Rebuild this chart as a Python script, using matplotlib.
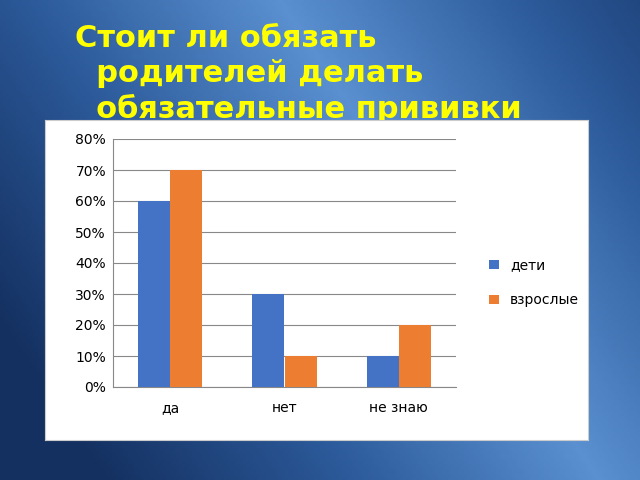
import numpy as np
import matplotlib
matplotlib.use("Agg")
import matplotlib.pyplot as plt
from matplotlib.colors import LinearSegmentedColormap
from matplotlib.ticker import FuncFormatter

categories = ["да", "нет", "не знаю"]
series_names = ["дети", "взрослые"]
deti = [0.60, 0.30, 0.10]
vzroslye = [0.70, 0.10, 0.20]
title = "Стоит ли обязать\n  родителей делать\n  обязательные прививки"

W, H = 640, 480
fig = plt.figure(figsize=(6.4, 4.8), dpi=100)

# background gradient
bg = fig.add_axes([0, 0, 1, 1], zorder=0)
xx, yy = np.meshgrid(np.linspace(0, 1, 200), np.linspace(0, 1, 150))
val = np.clip(1 - np.abs((xx * 0.8 + (1 - yy) * 0.4) - 0.75) * 1.6, 0, 1)
cmap = LinearSegmentedColormap.from_list("g", ["#143060", "#2c5a9a", "#5a90d0"])
bg.imshow(val, cmap=cmap, aspect="auto", extent=[0, W, H, 0])
bg.set_xlim(0, W); bg.set_ylim(H, 0); bg.axis("off")
bg.text(75, 24, title, color="#FFFF00", fontsize=22, fontweight="bold",
        va="top", ha="left", linespacing=1.25)

# white box
box = fig.add_axes([45 / W, 1 - 440 / H, (588 - 45) / W, (440 - 120) / H], zorder=1)
box.set_facecolor("white")
box.set_xticks([]); box.set_yticks([])
for s in box.spines.values():
    s.set_color("#cccccc")

ax = fig.add_axes([113 / W, 1 - 387 / H, (456 - 113) / W, (387 - 139) / H], zorder=2)
x = np.arange(len(categories))
w = 0.28
ax.bar(x - w / 2, deti, w, color="#4472C4", label=series_names[0], zorder=3)
ax.bar(x + w / 2, vzroslye, w, color="#ED7D31", label=series_names[1], zorder=3)
ax.set_xlim(-0.5, 2.5); ax.set_ylim(0, 0.8)
ax.set_yticks(np.arange(0, 0.81, 0.1))
ax.yaxis.set_major_formatter(FuncFormatter(lambda v, p: f"{v*100:.0f}%"))
ax.set_xticks(x); ax.set_xticklabels(categories)
ax.tick_params(labelsize=10, length=0, pad=10)
ax.tick_params(axis="y", pad=5)
ax.grid(axis="y", color="#888888", linewidth=0.8, zorder=0)
ax.set_facecolor("none")
for k in ["top", "right"]:
    ax.spines[k].set_visible(False)
ax.spines["left"].set_color("#888888"); ax.spines["bottom"].set_color("#888888")
ax.legend(loc="center left", bbox_to_anchor=(1.06, 0.42), frameon=False,
          fontsize=10, handlelength=0.7, handleheight=0.7, labelspacing=1.5)

fig.savefig("out.png", dpi=100)
